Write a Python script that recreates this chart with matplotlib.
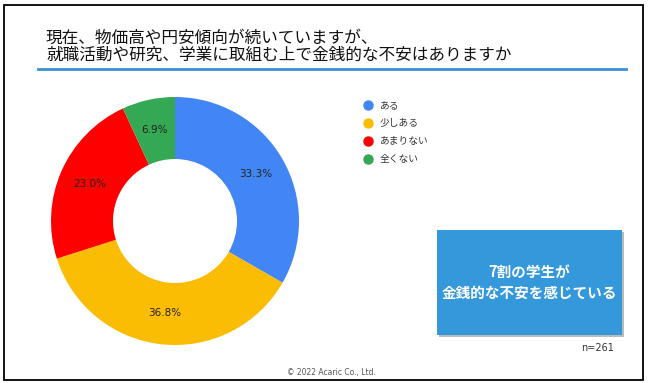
import matplotlib
matplotlib.use("Agg")
import matplotlib.pyplot as plt
from matplotlib.patches import Rectangle
from matplotlib.lines import Line2D

plt.rcParams['font.family'] = ['Noto Sans CJK JP', 'DejaVu Sans']

# data
labels = ['ある', '少しある', 'あまりない', '全くない']
values = [33.3, 36.8, 23.0, 6.9]
colors = ['#4285F4', '#FBBC04', '#FF0000', '#34A853']
title_lines = ['現在、物価高や円安傾向が続いていますが、',
               '就職活動や研究、学業に取組む上で金銭的な不安はありますか']
box_lines = ['7割の学生が', '金銭的な不安を感じている']
n_text = 'n=261'
credit = '© 2022 Acaric Co., Ltd.'

W, H = 650, 383
fig = plt.figure(figsize=(W / 100, H / 100), dpi=100)
fig.patch.set_facecolor('white')


def fx(x):
    return x / W


def fy(y):
    return 1 - y / H


# outer frame
fig.add_artist(Rectangle((fx(3.5), fy(380)), fx(643) - fx(3.5), fy(5) - fy(380),
                         transform=fig.transFigure, fill=False,
                         edgecolor='black', linewidth=1.3))

# title + underline
fig.text(fx(46), fy(38), title_lines[0], fontsize=12, va='center', ha='left', color='#111111')
fig.text(fx(46), fy(55), title_lines[1], fontsize=12, va='center', ha='left', color='#111111')
fig.add_artist(Line2D([fx(38), fx(626)], [fy(68.5), fy(68.5)], transform=fig.transFigure,
                      color='#3A8FD0', linewidth=2))

# donut
cx, cy, r = 175, 221, 124
ax = fig.add_axes([fx(cx - r), fy(cy + r), 2 * r / W, 2 * r / H])
wedges, texts, autotexts = ax.pie(values, colors=colors, startangle=90, counterclock=False,
                                  autopct='%.1f%%', pctdistance=0.75,
                                  wedgeprops=dict(width=0.5, edgecolor='none'),
                                  textprops=dict(fontsize=7.5, color='#222222',
                                                 family=['DejaVu Sans']))
ax.set_xlim(-1, 1)
ax.set_ylim(-1, 1)
ax.set_aspect('equal')
ax.axis('off')

# legend
for i, (lab, col) in enumerate(zip(labels, colors)):
    y = 105 + i * 18
    fig.add_artist(Line2D([fx(368)], [fy(y)], transform=fig.transFigure, marker='o',
                          markersize=6.5, color=col, linestyle='none'))
    fig.text(fx(380), fy(y), lab, fontsize=7, va='center', ha='left', color='#333333')

# highlight box with faint shadow
bx0, by0, bx1, by1 = 437, 230, 622, 335
fig.add_artist(Rectangle((fx(bx0 + 1.5), fy(by1 + 2)), fx(bx1) - fx(bx0), fy(by0) - fy(by1),
                         transform=fig.transFigure, facecolor='#BBBBBB', edgecolor='none'))
fig.add_artist(Rectangle((fx(bx0), fy(by1)), fx(bx1) - fx(bx0), fy(by0) - fy(by1),
                         transform=fig.transFigure, facecolor='#3498DB', edgecolor='none'))
bxc = (bx0 + bx1) / 2
fig.text(fx(bxc), fy(272), box_lines[0], fontsize=10.5, fontweight='bold', color='white',
         ha='center', va='center')
fig.text(fx(bxc), fy(293), box_lines[1], fontsize=10.5, fontweight='bold', color='white',
         ha='center', va='center')

fig.text(fx(614), fy(348), n_text, fontsize=7, color='#333333', ha='right', va='center',
         family=['DejaVu Sans'])
fig.text(fx(331), fy(372), credit, fontsize=5.5, color='#555555', ha='center', va='center',
         family=['DejaVu Sans'])

fig.savefig('out.png', dpi=100, facecolor='white')
